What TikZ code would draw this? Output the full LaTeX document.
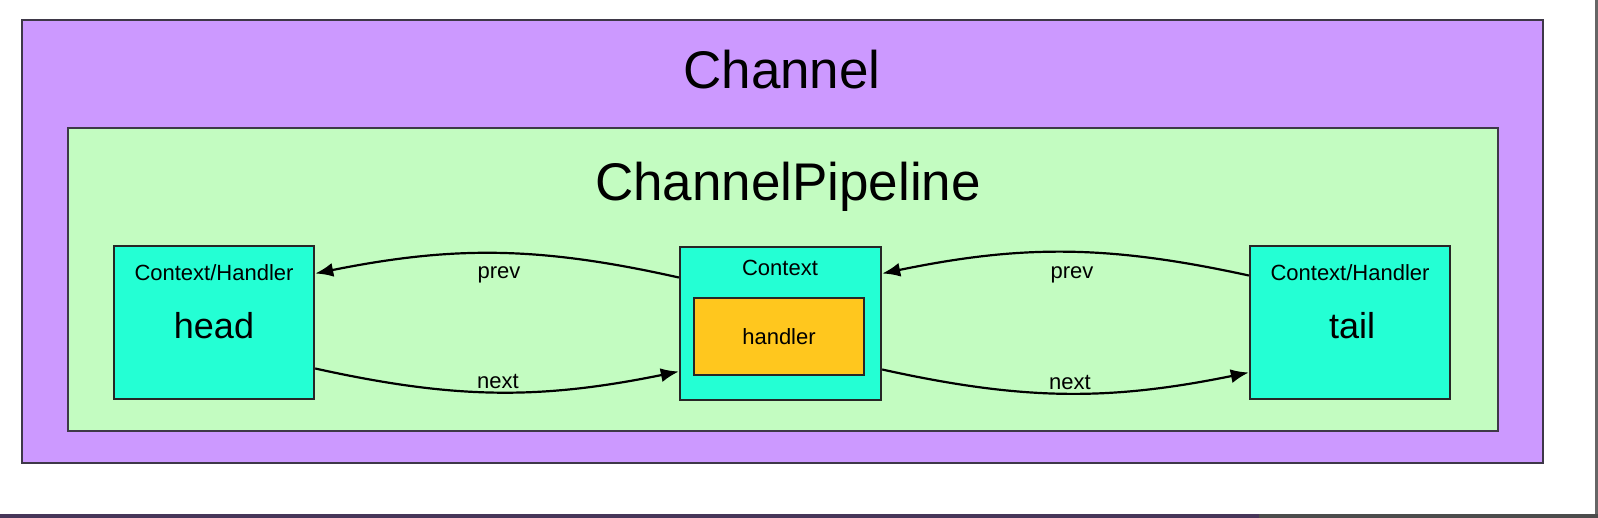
\documentclass[tikz,border=0pt]{standalone}
\usepackage{fontspec}
\setmainfont{Liberation Sans}
\usetikzlibrary{arrows.meta}
\definecolor{chanpurple}{RGB}{204,153,255}
\definecolor{pipegreen}{RGB}{195,252,193}
\definecolor{ctxcyan}{RGB}{36,255,212}
\definecolor{handleryellow}{RGB}{255,199,30}
\definecolor{framegrey}{RGB}{62,56,72}
\begin{document}
\begin{tikzpicture}[x=0.5pt,y=-0.5pt,
    frame/.style={draw=framegrey, line width=1.3pt, inner sep=0pt},
    ctxbox/.style={draw=black!85, line width=1.2pt, fill=ctxcyan, inner sep=0pt,
      minimum width=100pt, minimum height=76.5pt},
    title/.style={font=\fontsize{26.5}{30}\selectfont},
    big/.style={font=\fontsize{18}{21}\selectfont},
    small/.style={font=\fontsize{11}{13}\selectfont}]
  \useasboundingbox (0,0) rectangle (1598,518);
  \fill[white] (0,0) rectangle (1598,518);
  % bits of the screen round the shot
  \fill[black!60] (1595,0) rectangle (1598,518);
  \fill[chanpurple!35!black] (0,514) rectangle (1259,518);
  \fill[black!70] (1259,514) rectangle (1598,518);
  % containers
  \node[frame, fill=chanpurple, minimum width=760.5pt, minimum height=221.5pt]
    (channel) at (782.5,241.5) {};
  \node[title] (channeltitle) at (782,70) {Channel};
  \node[frame, fill=pipegreen, minimum width=715pt, minimum height=151.5pt]
    (pipeline) at (783,279.5) {};
  \node[title] (pipelinetitle) at (788,187) {ChannelPipeline};
  % contexts
  \node[ctxbox] (head) at (214,322.5) {};
  \node[ctxbox, minimum width=100.5pt] (ctx) at (780.5,323.5) {};
  \node[ctxbox] (tail) at (1350,322.5) {};
  \node[draw=black!85, line width=1.2pt, fill=handleryellow, inner sep=0pt,
    minimum width=85pt, minimum height=38.5pt] (handler) at (779,336.5) {};
  \node[small] (headtag) at (214,273) {Context/Handler};
  \node[big] (headname) at (214,326) {head};
  \node[small] (ctxtag) at (780,268) {Context};
  \node[small] (handlername) at (779,337) {handler};
  \node[small] (tailtag) at (1350,273) {Context/Handler};
  \node[big] (tailname) at (1352,326) {tail};
  \node[small] (prevleft) at (499,275) {prev};
  \node[small] (nextleft) at (498,381) {next};
  \node[small] (prevright) at (1072,275) {prev};
  \node[small] (nextright) at (1070,382) {next};
  \begin{scope}[line width=1.1pt, -{Latex[length=9pt,width=7pt]}, bend right=12]
    \draw ([yshift=23pt]ctx.west) to ([yshift=24.5pt]head.east);
    \draw ([yshift=-23pt]head.east) to ([yshift=-24pt]ctx.west);
    \draw ([yshift=23.5pt]tail.west) to ([yshift=25pt]ctx.east);
    \draw ([yshift=-23pt]ctx.east) to ([yshift=-25pt]tail.west);
  \end{scope}
\end{tikzpicture}
\end{document}
